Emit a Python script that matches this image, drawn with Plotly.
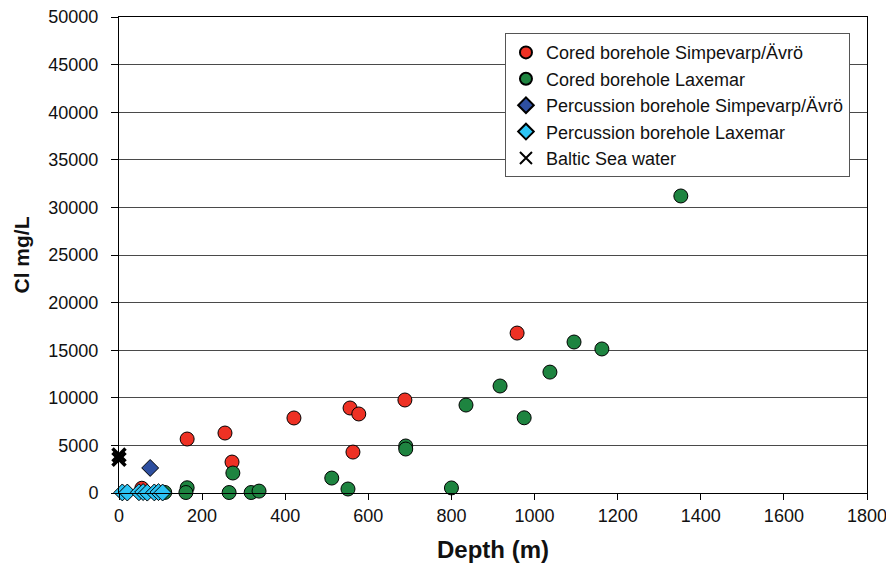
import plotly.graph_objects as go

# Cored borehole Simpevarp/Ävrö
red_depth = [55, 164, 255, 272, 421, 556, 577, 563, 688, 958]
red_cl = [500, 5670, 6300, 3250, 7880, 8930, 8300, 4300, 9770, 16800]

# Cored borehole Laxemar
green_depth = [110, 164, 161, 274, 265, 318, 337, 512, 551, 690, 690, 800, 835, 917, 975, 1037, 1095, 1162, 1352]
green_cl = [60, 550, 50, 2100, 50, 50, 200, 1570, 420, 4940, 4620, 530, 9240, 11240, 7900, 12700, 15860, 15130, 31200]

# Percussion borehole Simpevarp/Ävrö
blue_depth = [75]
blue_cl = [2630]

# Percussion borehole Laxemar
cyan_depth = [8, 20, 48, 58, 68, 85, 95, 105]
cyan_cl = [60, 50, 80, 100, 40, 60, 90, 50]

# Baltic Sea water
baltic_depth = [0, 0]
baltic_cl = [3550, 4000]

x_ticks = [0, 200, 400, 600, 800, 1000, 1200, 1400, 1600, 1800]
y_ticks = [0, 5000, 10000, 15000, 20000, 25000, 30000, 35000, 40000, 45000, 50000]

fig = go.Figure()
fig.add_trace(go.Scatter(x=red_depth, y=red_cl, mode="markers", name="Cored borehole Simpevarp/Ävrö", cliponaxis=False,
                         marker=dict(symbol="circle", size=14, color="#EE3124", line=dict(color="black", width=1))))
fig.add_trace(go.Scatter(x=green_depth, y=green_cl, mode="markers", name="Cored borehole Laxemar", cliponaxis=False,
                         marker=dict(symbol="circle", size=14, color="#1E8440", line=dict(color="black", width=1))))
fig.add_trace(go.Scatter(x=blue_depth, y=blue_cl, mode="markers", name="Percussion borehole Simpevarp/Ävrö", cliponaxis=False,
                         marker=dict(symbol="diamond", size=13, color="#2E4FA0", line=dict(color="black", width=1))))
fig.add_trace(go.Scatter(x=cyan_depth, y=cyan_cl, mode="markers", name="Percussion borehole Laxemar", cliponaxis=False,
                         marker=dict(symbol="diamond", size=13, color="#2CC4F4", line=dict(color="black", width=1))))
fig.add_trace(go.Scatter(x=baltic_depth, y=baltic_cl, mode="markers", name="Baltic Sea water", cliponaxis=False,
                         marker=dict(symbol="x-thin", size=13, color="black", line=dict(color="black", width=3.5))))

fig.update_layout(
    width=886, height=563,
    margin=dict(l=119, r=19, t=17, b=70, autoexpand=False),
    paper_bgcolor="white", plot_bgcolor="white",
    font=dict(family="Liberation Sans, Arial, sans-serif", size=18, color="#111111"),
    showlegend=True,
    legend=dict(x=0.516, y=0.966, xanchor="left", yanchor="top",
                bgcolor="white", bordercolor="#555555", borderwidth=1,
                font=dict(size=18), itemsizing="constant", tracegroupgap=0),
    xaxis=dict(range=[0, 1800], tickvals=x_ticks, tickformat="d", showgrid=False, zeroline=False,
               automargin=False, ticklabeloverflow="allow",
               showline=True, linecolor="black", linewidth=1, mirror=True,
               ticks="outside", ticklen=6, tickcolor="black", tickfont=dict(size=18),
               title=dict(text="<b>Depth (m)</b>", font=dict(size=24), standoff=17)),
    yaxis=dict(range=[0, 50000], tickvals=y_ticks, tickformat="d", showgrid=True, gridcolor="#4a4a4a", gridwidth=1,
               automargin=False, ticklabeloverflow="allow",
               zeroline=False, showline=True, linecolor="black", linewidth=1, mirror=True,
               ticks="outside", ticklen=7, tickcolor="black", tickfont=dict(size=18), ticklabelstandoff=9,
               title=dict(text="<b>Cl mg/L</b>", font=dict(size=21), standoff=12)),
)

fig.write_html("out.html")
